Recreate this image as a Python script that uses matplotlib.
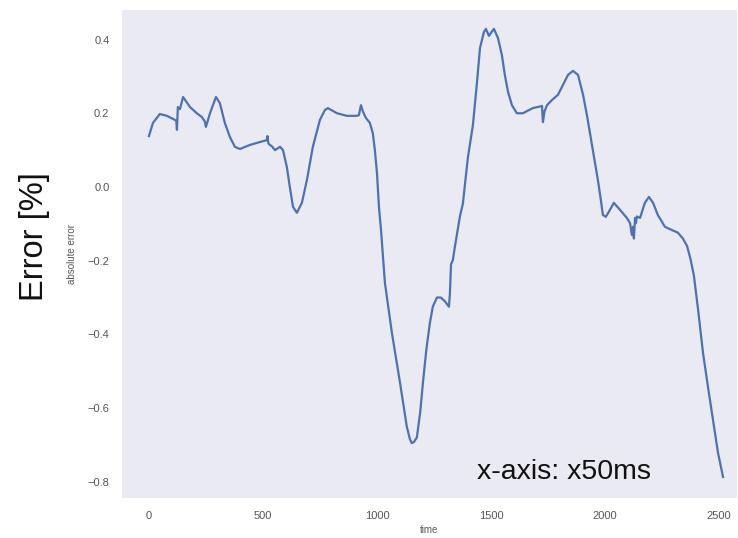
import numpy as np
import matplotlib.pyplot as plt

# values (time index, absolute error)
time = [0, 18, 48, 79, 114, 120, 123, 127, 136, 150, 180, 210, 232, 245, 250, 268,
        294, 311, 333, 355, 377, 399, 443, 487, 512, 517, 520, 524, 531, 540, 553,
        575, 588, 605, 618, 632, 649, 671, 693, 719, 750, 772, 785, 825, 868, 912,
        921, 930, 939, 952, 969, 982, 991, 1000, 1009, 1018, 1035, 1066, 1101, 1131,
        1145, 1153, 1162, 1175, 1190, 1202, 1217, 1232, 1245, 1263, 1280, 1298, 1316,
        1320, 1325, 1333, 1342, 1364, 1377, 1399, 1421, 1439, 1452, 1469, 1478, 1491,
        1513, 1531, 1548, 1561, 1575, 1592, 1614, 1640, 1684, 1720, 1724, 1728, 1735,
        1746, 1768, 1794, 1816, 1838, 1860, 1882, 1904, 1921, 1947, 1969, 1982, 1991,
        2004, 2022, 2039, 2066, 2096, 2110, 2118, 2123, 2127, 2132, 2136, 2140, 2154,
        2175, 2193, 2211, 2232, 2263, 2294, 2320, 2342, 2360, 2375, 2390, 2408, 2430,
        2452, 2474, 2496, 2518]
error = [0.138, 0.174, 0.198, 0.193, 0.182, 0.180, 0.155, 0.217, 0.211, 0.244, 0.217,
         0.200, 0.190, 0.178, 0.163, 0.200, 0.244, 0.228, 0.174, 0.136, 0.109, 0.103,
         0.114, 0.122, 0.126, 0.127, 0.138, 0.118, 0.114, 0.110, 0.100, 0.109, 0.100,
         0.054, 0.000, -0.054, -0.070, -0.043, 0.019, 0.109, 0.182, 0.209, 0.214, 0.200,
         0.193, 0.193, 0.195, 0.222, 0.204, 0.187, 0.174, 0.146, 0.100, 0.040, -0.055,
         -0.117, -0.260, -0.397, -0.530, -0.650, -0.685, -0.695, -0.692, -0.680, -0.610,
         -0.530, -0.440, -0.370, -0.325, -0.300, -0.300, -0.310, -0.325, -0.290, -0.210,
         -0.198, -0.162, -0.080, -0.045, 0.080, 0.168, 0.285, 0.377, 0.420, 0.429, 0.410,
         0.429, 0.404, 0.358, 0.304, 0.258, 0.222, 0.200, 0.200, 0.214, 0.219, 0.220,
         0.176, 0.205, 0.222, 0.236, 0.250, 0.277, 0.304, 0.315, 0.304, 0.250, 0.195,
         0.100, 0.019, -0.035, -0.076, -0.081, -0.062, -0.043, -0.062, -0.084, -0.098,
         -0.130, -0.108, -0.140, -0.084, -0.098, -0.080, -0.084, -0.043, -0.027, -0.043,
         -0.076, -0.108, -0.117, -0.124, -0.140, -0.160, -0.195, -0.240, -0.330, -0.450,
         -0.543, -0.632, -0.722, -0.787]

fig = plt.figure(figsize=(7.38, 5.38), dpi=100)
ax = fig.add_axes([0.1653, 0.0743, 0.8333, 0.907], facecolor="#EAEAF2")

ax.plot(time, error, color="#4C72B0", linewidth=1.6)

ax.set_xlim(-118, 2579)
ax.set_ylim(-0.844, 0.480)
ax.set_xticks([0, 500, 1000, 1500, 2000, 2500])
ax.set_yticks([-0.8, -0.6, -0.4, -0.2, 0.0, 0.2, 0.4])
ax.set_yticklabels(["\u22120.8", "\u22120.6", "\u22120.4", "\u22120.2", "0.0", "0.2", "0.4"])

for spine in ax.spines.values():
    spine.set_visible(False)
ax.tick_params(length=0, pad=9, labelsize=8, colors="#555555")
for lbl in ax.get_xticklabels() + ax.get_yticklabels():
    lbl.set_family(["Liberation Sans", "DejaVu Sans"])

ax.set_xlabel("time", fontsize=7, color="#555555", family="Liberation Sans", labelpad=3)
ax.set_ylabel("absolute error", fontsize=7, color="#555555", family="Liberation Sans",
              labelpad=8)

fig.text(0.047, 0.56, "Error [%]", rotation=90, fontsize=23.5, color="#111111",
         family="Liberation Sans", ha="center", va="center")
ax.text(0.578, 0.040, "x-axis: x50ms", transform=ax.transAxes, fontsize=20.5,
        color="#111111", family="Liberation Sans", ha="left", va="baseline")

fig.savefig("out.png", dpi=100)
